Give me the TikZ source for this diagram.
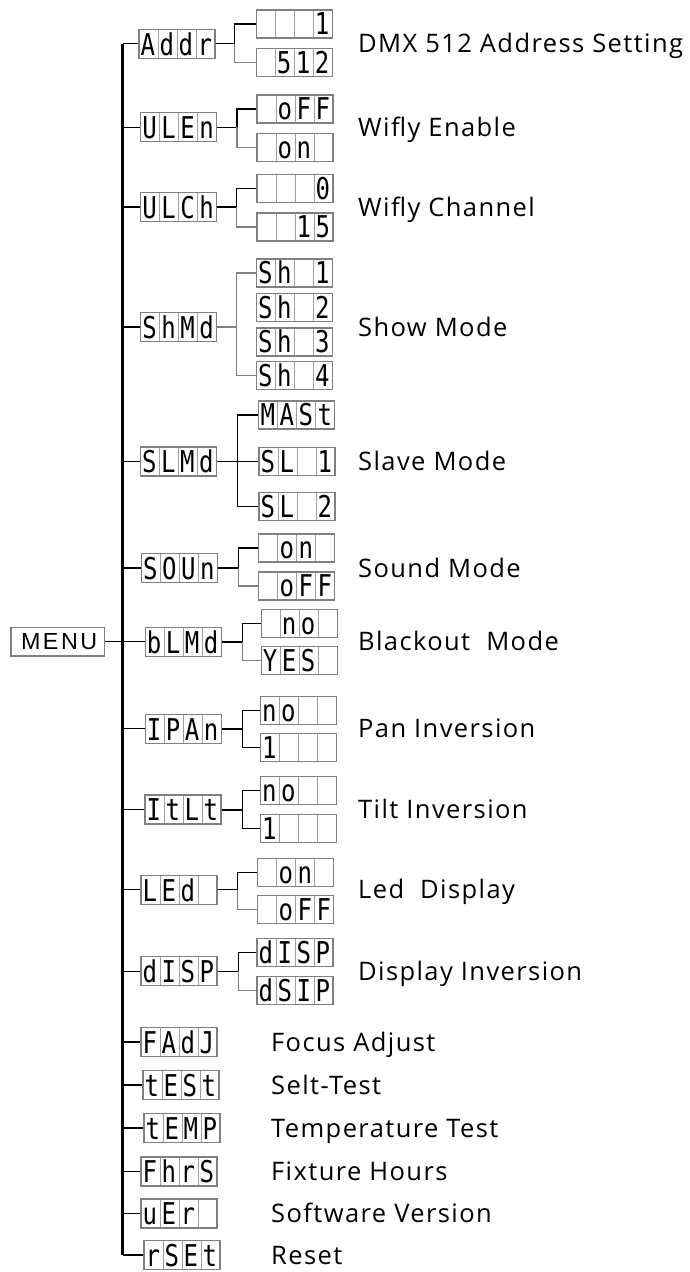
\documentclass[tikz,border=0pt]{standalone}
\usepackage{fontspec}
\usepackage{graphicx}
\usetikzlibrary{calc}
\newfontfamily\lblfont[LetterSpace=5.5]{Open Sans}
\newfontfamily\segfont{DejaVu Sans Mono}
\newfontfamily\menufont[LetterSpace=11]{Liberation Sans}
\definecolor{boxgray}{HTML}{808080}
\definecolor{cellgray}{HTML}{A0A0A0}
\definecolor{linegray}{HTML}{808080}
\newcommand\sg[1]{\scalebox{0.8}[1]{#1}}
\newcommand\segbox[8]{%
  \node[#1] (#2) at (#3,#4) {};
  \node[segch] (#2-a) at ($(#2.south west)+(9.5,-3.6)$) {\sg{#5}};
  \node[segch] (#2-b) at ($(#2.south west)+(28.5,-3.6)$) {\sg{#6}};
  \node[segch] (#2-c) at ($(#2.south west)+(47.5,-3.6)$) {\sg{#7}};
  \node[segch] (#2-d) at ($(#2.south west)+(66.5,-3.6)$) {\sg{#8}};
}
\tikzset{
  dbox/.style={draw=boxgray, line width=1.1pt, fill=white, minimum width=76pt,
    minimum height=29pt, inner sep=0pt,
    path picture={\foreach \k in {1,2,3}{\draw[cellgray, line width=0.8pt]
      ([xshift=\k*19pt]path picture bounding box.north west) --
      ([xshift=\k*19pt]path picture bounding box.south west);}}},
  sbox/.style={dbox, minimum height=28pt},
  segch/.style={anchor=base, inner sep=0pt, font=\segfont\fontsize{30}{30}\selectfont},
  lbl/.style={anchor=base west, inner sep=0pt, font=\lblfont\fontsize{25.5}{30}\selectfont},
  menubox/.style={draw=boxgray, line width=1.2pt, fill=white, minimum width=93.7pt,
    minimum height=28.7pt, inner sep=0pt, font=\menufont\fontsize{23.3}{23.3}\selectfont},
  trunk/.style={line width=2.6pt, black},
  br/.style={line width=1.2pt, black},
  cb/.style={line width=1.1pt, black},
  cbt/.style={line width=2pt, black},
  cg/.style={line width=1.1pt, linegray},
}
\begin{document}
\begin{tikzpicture}[x=1pt,y=-1pt]
\useasboundingbox (0,0) rectangle (689,1272);
% trunk
\coordinate (ttop) at (122.7,43.8);
\coordinate (tbot) at (122.7,1255);
\draw[trunk] (ttop) -- (tbot);
% MENU
\node[menubox] (menu) at (57.9,641.7) {\hspace*{2.5pt}MENU};
% main boxes
\segbox{dbox}{addr}{177}{43.8}{A}{d}{d}{r}
\segbox{dbox}{ulen}{178.7}{127.2}{U}{L}{E}{n}
\segbox{dbox}{ulch}{178.7}{207}{U}{L}{C}{h}
\segbox{dbox}{shnd}{178.7}{327}{S}{h}{M}{d}
\segbox{dbox}{slnd}{178.5}{461.5}{S}{L}{M}{d}
\segbox{dbox}{soun}{179.5}{568}{S}{O}{U}{n}
\segbox{dbox}{blnd}{183.2}{641.7}{b}{L}{M}{d}
\segbox{dbox}{ipan}{183.2}{728.8}{I}{P}{A}{n}
\segbox{dbox}{itlt}{183}{809.5}{I}{t}{L}{t}
\segbox{dbox}{led}{179}{889.7}{L}{E}{d}{}
\segbox{dbox}{disp}{179}{971.3}{d}{I}{S}{P}
\segbox{dbox}{fadj}{179}{1042}{F}{A}{d}{J}
\segbox{dbox}{test}{181}{1085}{t}{E}{S}{t}
\segbox{dbox}{temp}{182}{1128}{t}{E}{M}{P}
\segbox{dbox}{fhrs}{179}{1171.5}{F}{h}{r}{S}
\segbox{dbox}{ver}{179}{1213.5}{u}{E}{r}{}
\segbox{dbox}{rset}{182}{1255}{r}{S}{E}{t}
% branches from trunk
\foreach \n in {addr,ulen,ulch,shnd,slnd,soun,ipan,itlt,led,disp,fadj,test,temp,fhrs,ver,rset}
  \draw[br] (\n.west -| ttop) -- (\n.west);
\draw[br] (menu.east) -- (blnd.west);
% sub boxes
\segbox{sbox}{addr1}{294.2}{24}{}{}{}{1}
\segbox{sbox}{addr2}{294.2}{62.5}{}{5}{1}{2}
\segbox{sbox}{ulen1}{295}{109}{}{o}{F}{F}
\segbox{sbox}{ulen2}{295}{147.5}{}{o}{n}{}
\segbox{sbox}{ulch1}{295}{188.5}{}{}{}{0}
\segbox{sbox}{ulch2}{295}{227}{}{}{1}{5}
\segbox{sbox}{shnd1}{294.5}{273}{S}{h}{}{1}
\segbox{sbox}{shnd2}{294.5}{307.5}{S}{h}{}{2}
\segbox{sbox}{shnd3}{294.5}{342}{S}{h}{}{3}
\segbox{sbox}{shnd4}{294.5}{375.5}{S}{h}{}{4}
\segbox{sbox}{slnd1}{296.8}{415}{M}{A}{S}{t}
\segbox{sbox}{slnd2}{297}{461.5}{S}{L}{}{1}
\segbox{sbox}{slnd3}{297}{506.5}{S}{L}{}{2}
\segbox{sbox}{soun1}{296.8}{548}{}{o}{n}{}
\segbox{sbox}{soun2}{296.8}{586}{}{o}{F}{F}
\segbox{sbox}{blnd1}{299.2}{623.3}{}{n}{o}{}
\segbox{sbox}{blnd2}{299.2}{660.3}{Y}{E}{S}{}
\segbox{sbox}{ipan1}{298.3}{710.2}{n}{o}{}{}
\segbox{sbox}{ipan2}{298.3}{747.2}{1}{}{}{}
\segbox{sbox}{itlt1}{298.3}{790.5}{n}{o}{}{}
\segbox{sbox}{itlt2}{298.3}{828.5}{1}{}{}{}
\segbox{sbox}{led1}{295.8}{872.2}{}{o}{n}{}
\segbox{sbox}{led2}{295.8}{909.8}{}{o}{F}{F}
\segbox{sbox}{disp1}{295}{952.2}{d}{I}{S}{P}
\segbox{sbox}{disp2}{295}{990.5}{d}{S}{I}{P}
% junctions
\coordinate (addr-j) at (234.3,43.8);
\draw[cb] (addr.east) -- (addr-j) |- (addr1.west);
\draw[cg] (addr-j) |- (addr2.west);
\coordinate (ulen-j) at (237,127.2);
\draw[cb] (ulen.east) -- (ulen-j) |- (ulen1.west);
\draw[cg] (ulen-j) |- (ulen2.west);
\coordinate (ulch-j) at (236.7,207);
\draw[cb] (ulch.east) -- (ulch-j) |- (ulch1.west);
\draw[cg] (ulch-j) |- (ulch2.west);
\coordinate (shnd-j) at (236.7,327);
\draw[cg] (shnd.east) -- (shnd-j);
\draw[cg] (shnd-j) |- (shnd1.west);
\draw[cg] (shnd-j) |- (shnd4.west);
\coordinate (slnd-j) at (237.3,461.5);
\draw[cb] (slnd.east) -- (slnd-j) -- (slnd2.west);
\draw[cb] (slnd-j) |- (slnd1.west);
\draw[cb] (slnd-j) |- (slnd3.west);
\coordinate (soun-j) at (238.3,568);
\draw[cb] (soun.east) -- (soun-j) |- (soun1.west);
\draw[cg] (soun-j) |- (soun2.west);
\coordinate (blnd-j) at (242.7,641.7);
\draw[cbt] (blnd.east) -- (blnd-j);
\draw[cb] (blnd-j) |- (blnd1.west);
\draw[cg] (blnd-j) |- (blnd2.west);
\coordinate (ipan-j) at (242.7,728.8);
\draw[cbt] (ipan.east) -- (ipan-j);
\draw[cb] (ipan-j) |- (ipan1.west);
\draw[cb] (ipan-j) |- (ipan2.west);
\coordinate (itlt-j) at (242.7,809.5);
\draw[cbt] (itlt.east) -- (itlt-j);
\draw[cb] (itlt-j) |- (itlt1.west);
\draw[cb] (itlt-j) |- (itlt2.west);
\coordinate (led-j) at (237.3,889.7);
\draw[cb] (led.east) -- (led-j) |- (led1.west);
\draw[cg] (led-j) |- (led2.west);
\coordinate (disp-j) at (238.3,971.3);
\draw[cb] (disp.east) -- (disp-j) |- (disp1.west);
\draw[cg] (disp-j) |- (disp2.west);
% labels
\node[lbl] (l-addr) at (358,52.9) {DMX 512 Address Setting};
\node[lbl] (l-ulen) at (358,136.3) {Wifly Enable};
\node[lbl] (l-ulch) at (358,216.1) {Wifly Channel};
\node[lbl] (l-shnd) at (358,336.1) {Show Mode};
\node[lbl] (l-slnd) at (358,470.6) {Slave Mode};
\node[lbl] (l-soun) at (358,577.1) {Sound Mode};
\node[lbl] (l-blnd) at (358,650.8) {Blackout\ \ Mode};
\node[lbl] (l-ipan) at (358,737.9) {Pan Inversion};
\node[lbl] (l-itlt) at (358,818.6) {Tilt Inversion};
\node[lbl] (l-led) at (358,898.8) {Led\ \ Display};
\node[lbl] (l-disp) at (358,980.4) {Display Inversion};
\node[lbl] (l-fadj) at (271,1051.1) {Focus Adjust};
\node[lbl] (l-test) at (271,1094.1) {Selt-Test};
\node[lbl] (l-temp) at (271,1137.1) {Temperature Test};
\node[lbl] (l-fhrs) at (271,1180.6) {Fixture Hours};
\node[lbl] (l-ver) at (271,1222.6) {Software Version};
\node[lbl] (l-rset) at (271,1264.1) {Reset};
\end{tikzpicture}
\end{document}
